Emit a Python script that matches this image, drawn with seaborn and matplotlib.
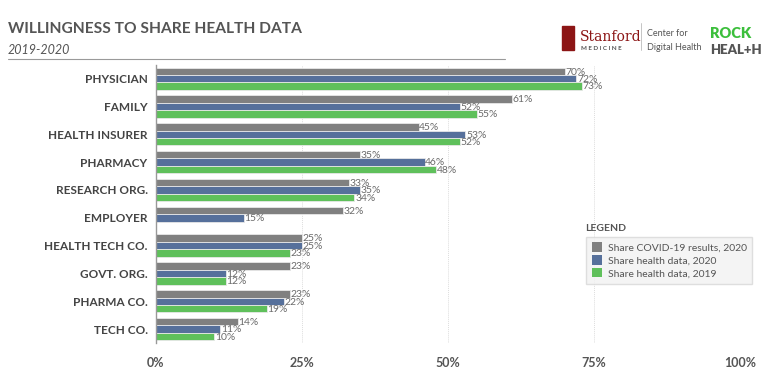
import pandas as pd
import numpy as np
import matplotlib
matplotlib.use("Agg")
import matplotlib.pyplot as plt
import seaborn as sns
from matplotlib.patches import Rectangle

# Data
categories = ["PHYSICIAN", "FAMILY", "HEALTH INSURER", "PHARMACY", "RESEARCH ORG.",
              "EMPLOYER", "HEALTH TECH CO.", "GOVT. ORG.", "PHARMA CO.", "TECH CO."]
series = ["Share COVID-19 results, 2020", "Share health data, 2020", "Share health data, 2019"]
covid_2020 = [70, 61, 45, 35, 33, 32, 25, 23, 23, 14]
health_2020 = [72, 52, 53, 46, 35, 15, 25, 12, 22, 11]
health_2019 = [73, 55, 52, 48, 34, None, 23, 12, 19, 10]
ticks = [0, 25, 50, 75, 100]
tick_labels = ["0%", "25%", "50%", "75%", "100%"]

colors = ["#808080", "#4a6da7", "#4fd14a"]

rows = []
for cat, a, b, c in zip(categories, covid_2020, health_2020, health_2019):
    rows.append((cat, series[0], a))
    rows.append((cat, series[1], b))
    rows.append((cat, series[2], c))
df = pd.DataFrame(rows, columns=["category", "series", "value"])

sns.set_theme(style="white")
plt.rcParams['font.family'] = ['Lato', 'DejaVu Sans']

fig = plt.figure(figsize=(7.68, 3.88), dpi=100)
ax = fig.add_axes([0.203, 0.116, 0.7605, 0.717])

sns.barplot(data=df, y="category", x="value", hue="series", order=categories,
            hue_order=series, palette=colors, orient="h", width=0.8,
            edgecolor="#e8e8e8", linewidth=0.6, ax=ax, legend=True)

# value labels
for cont in ax.containers:
    for bar in cont:
        w = bar.get_width()
        if np.isnan(w) or w == 0:
            continue
        ax.text(w + 0.1, bar.get_y() + bar.get_height() * 0.6, f"{int(round(w))}%",
                ha="left", va="center", fontsize=7.5, color="#6a6a6a")

ax.set_xlim(0, 100)
ax.set_ylim(9.5, -0.5)
ax.set_xticks(ticks)
ax.set_xticklabels(tick_labels, fontsize=9, fontweight="bold", color="#555555")
ax.tick_params(axis="x", length=0, pad=10)
ax.tick_params(axis="y", length=0, pad=6)
for lbl in ax.get_yticklabels():
    lbl.set_fontsize(8.5)
    lbl.set_fontweight("bold")
    lbl.set_color("#444444")
ax.set_xlabel("")
ax.set_ylabel("")
for t in ticks[1:]:
    ax.axvline(t, color="#dddddd", linestyle=(0, (1, 1)), linewidth=0.7, zorder=0)
for s in ["top", "right", "bottom"]:
    ax.spines[s].set_visible(False)
ax.spines["left"].set_color("#999999")
ax.spines["left"].set_linewidth(1)

leg = ax.legend(loc="lower left", bbox_to_anchor=(0.728, 0.195), fontsize=7.5,
                frameon=True, fancybox=False, handlelength=1.0, handleheight=1.0,
                handletextpad=0.6, borderpad=0.5, labelspacing=0.25)
leg.get_frame().set_facecolor("#f2f2f2")
leg.get_frame().set_edgecolor("#d8d8d8")
for t in leg.get_texts():
    t.set_color("#555555")
for h in leg.legend_handles:
    h.set_edgecolor("none")
fig.text(0.762, 0.405, "LEGEND", fontsize=7.5, fontweight="bold", color="#555555")

# header
fig.text(0.010, 0.915, "WILLINGNESS TO SHARE HEALTH DATA", fontsize=11.2, fontweight="bold",
         color="#555555")
fig.text(0.010, 0.862, "2019-2020", fontsize=9, style="italic", color="#555555")
fig.add_artist(plt.Line2D([0.010, 0.658], [0.848, 0.848], color="#9a9a9a", linewidth=0.8))

# logos
fig.add_artist(Rectangle((0.732, 0.872), 0.016, 0.062, color="#8c1515"))
fig.text(0.755, 0.895, "Stanford", fontsize=10, family="DejaVu Serif", color="#8c1515")
fig.text(0.757, 0.872, "M E D I C I N E", fontsize=4.5, fontweight="bold", color="#555555")
fig.add_artist(plt.Line2D([0.835, 0.835], [0.87, 0.94], color="#bbbbbb", linewidth=0.6))
fig.text(0.842, 0.908, "Center for", fontsize=6.5, color="#555555")
fig.text(0.842, 0.872, "Digital Health", fontsize=6.5, color="#555555")
fig.text(0.925, 0.902, "ROCK", fontsize=10.5, fontweight="heavy", color="#3cbf3c")
fig.text(0.925, 0.862, "HEAL+H", fontsize=9.5, fontweight="heavy", color="#555555")

fig.savefig("out.png", dpi=100)
